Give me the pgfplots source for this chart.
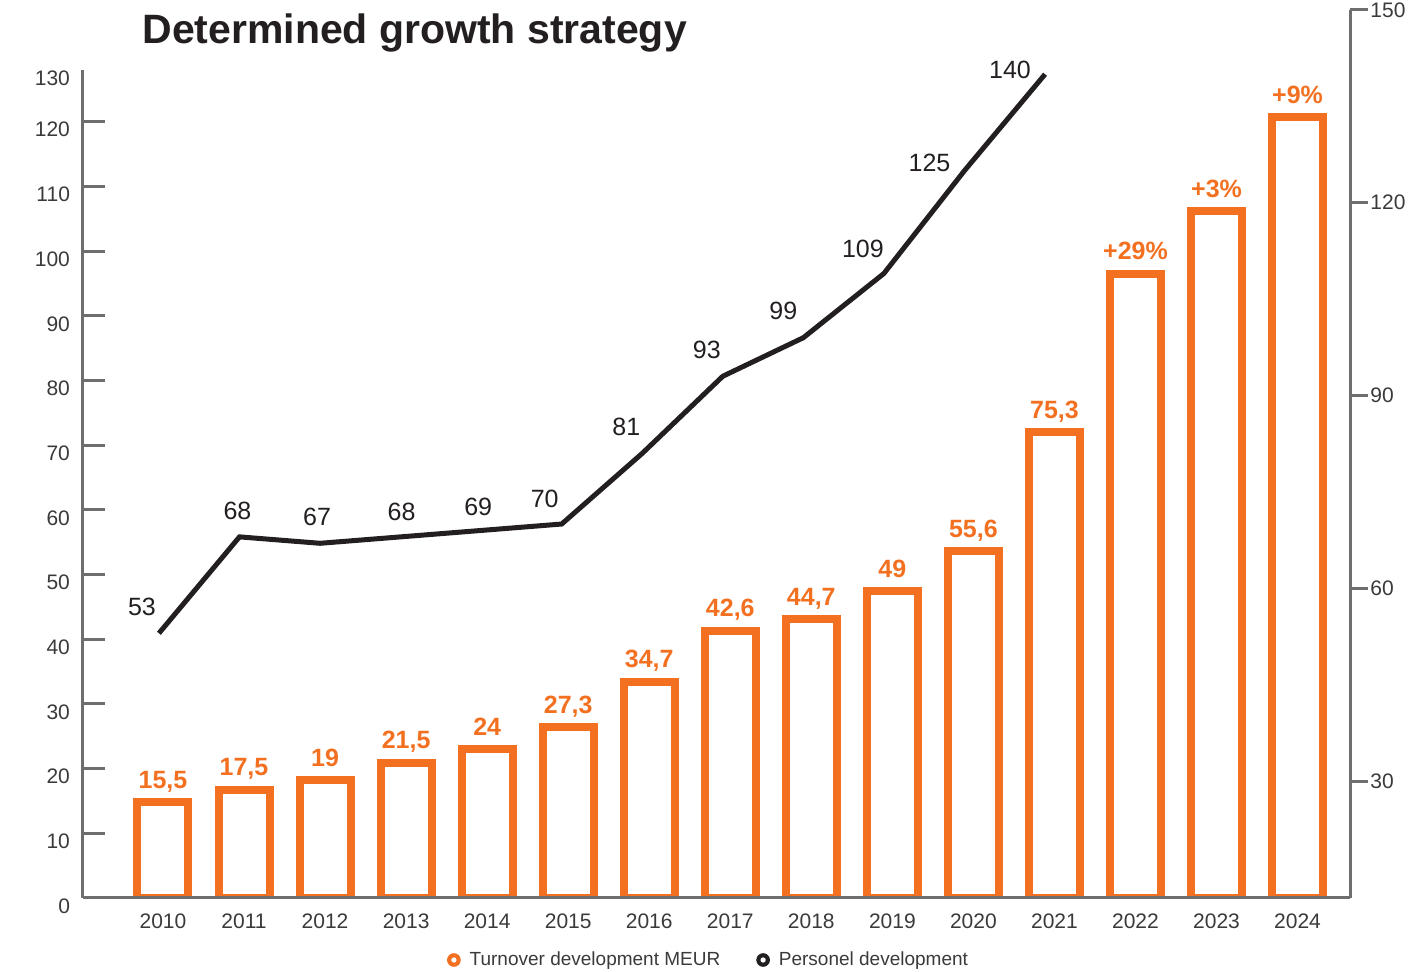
\documentclass[border=0pt]{standalone}
\usepackage{pgfplots}
\pgfplotsset{compat=1.18}
\usepackage{pgfplotstable}
\usepackage{fontspec}
\setmainfont{Liberation Sans}
\definecolor{orangeC}{HTML}{F37021}
\definecolor{axisgray}{HTML}{6E6E6E}
\definecolor{txt}{HTML}{231F20}
\definecolor{ticktxt}{HTML}{3A3A3A}

\pgfplotstableread{
x y label
0 14.8 15,5
1 16.7 17,5
2 18.2 19
3 20.9 21,5
4 23.0 24
5 26.4 27,3
6 33.4 34,7
7 41.3 42,6
8 43.1 44,7
9 47.4 49
10 53.6 55,6
11 72.0 75,3
12 96.5 +29\%
13 106.2 +3\%
14 120.7 +9\%
}\bardata

\pgfplotstableread{
x y dx dy
-0.05 53 -8.5 13
0.944 68 -1 13
1.938 67 -1.5 13
2.932 68 0.5 12.5
3.926 69 -1.5 12
4.92 70 -8.5 12.5
5.914 81 -8 13
6.908 93 -8 13
7.902 99 -10 13.5
8.896 109 -10.5 12.5
9.89 125 -17.5 4
10.884 140 -17.5 2
}\linedata

\begin{document}
\begin{tikzpicture}
\useasboundingbox (-41.5pt,-37pt) rectangle (668.5pt,449pt);
\begin{axis}[
  scale only axis,
  width=633.5pt, height=414pt,
  xmin=-0.987, xmax=14.647, ymin=0, ymax=128,
  axis x line*=bottom, axis y line*=left,
  axis line style={draw=axisgray, line width=1.5pt},
  axis on top,
  xtick={0,...,14},
  xticklabels={2010,2011,2012,2013,2014,2015,2016,2017,2018,2019,2020,2021,2022,2023,2024},
  x tick style={draw=none},
  xticklabel style={anchor=center, yshift=-11.5pt, font=\fontsize{10.5}{12}\selectfont, text=ticktxt},
  ytick={0,10,...,120},
  extra y ticks={128}, extra y tick labels={130},
  extra y tick style={major tick length=0pt},
  y tick style={draw=axisgray, line width=1.5pt},
  tick align=inside, major tick length=11pt,
  yticklabel style={anchor=east, xshift=-3pt, yshift=-4pt, font=\fontsize{10.5}{12}\selectfont, text=ticktxt},
  /pgf/number format/assume math mode=true,
  legend style={draw=none, fill=none, at={(0.4945,0)}, anchor=center, yshift=-31pt,
    font=\fontsize{9.5}{11}\selectfont, text=ticktxt, legend columns=2,
    /tikz/every odd column/.append style={column sep=2.5pt},
    /tikz/every even column/.append style={column sep=16pt}},
]
\addplot[ybar, bar width=25.5pt, draw=orangeC, fill=white, line width=4pt, forget plot,
  nodes near coords, point meta=explicit symbolic,
  every node near coord/.append style={anchor=base, yshift=7pt, inner sep=0pt,
    font=\fontsize{12.5}{14}\selectfont\bfseries, text=orangeC}]
  table[x=x, y=y, meta=label] {\bardata};
\addlegendimage{legend image code/.code={\fill[orangeC] (0pt,0pt) circle (3.2pt); \fill[white] (0pt,0pt) circle (1.1pt);}}
\addlegendentry{Turnover development MEUR}
\addlegendimage{legend image code/.code={\fill[txt] (0pt,0pt) circle (3.2pt); \fill[white] (0pt,0pt) circle (1.1pt);}}
\addlegendentry{Personel development}
\end{axis}
\begin{axis}[
  scale only axis,
  width=633.5pt, height=444pt,
  xmin=-0.987, xmax=14.647, ymin=11.8, ymax=150,
  axis x line=none, axis y line*=right,
  axis line style={draw=axisgray, line width=1.5pt},
  xtick=\empty,
  ytick={30,60,90,120,150},
  y tick style={draw=axisgray, line width=1.5pt},
  tick align=outside, major tick length=9pt,
  yticklabel style={anchor=west, inner sep=1pt, font=\fontsize{10.5}{12}\selectfont, text=ticktxt},
  /pgf/number format/assume math mode=true,
  clip=false,
]
\addplot[draw=txt, line width=2.5pt, mark=none,
  nodes near coords, point meta=explicit symbolic,
  visualization depends on={\thisrow{dx} \as \dx},
  visualization depends on={\thisrow{dy} \as \dy},
  every node near coord/.append style={anchor=center, xshift=\dx pt, yshift=\dy pt,
    inner sep=0pt, font=\fontsize{12.5}{14}\selectfont, text=txt}]
  table[x=x, y=y, meta=y] {\linedata};
\end{axis}
\node[anchor=base west, inner sep=0pt, font=\fontsize{20.5}{24}\selectfont\bfseries, text=txt]
  at (29.5pt,427pt) {Determined growth strategy};
\end{tikzpicture}
\end{document}
